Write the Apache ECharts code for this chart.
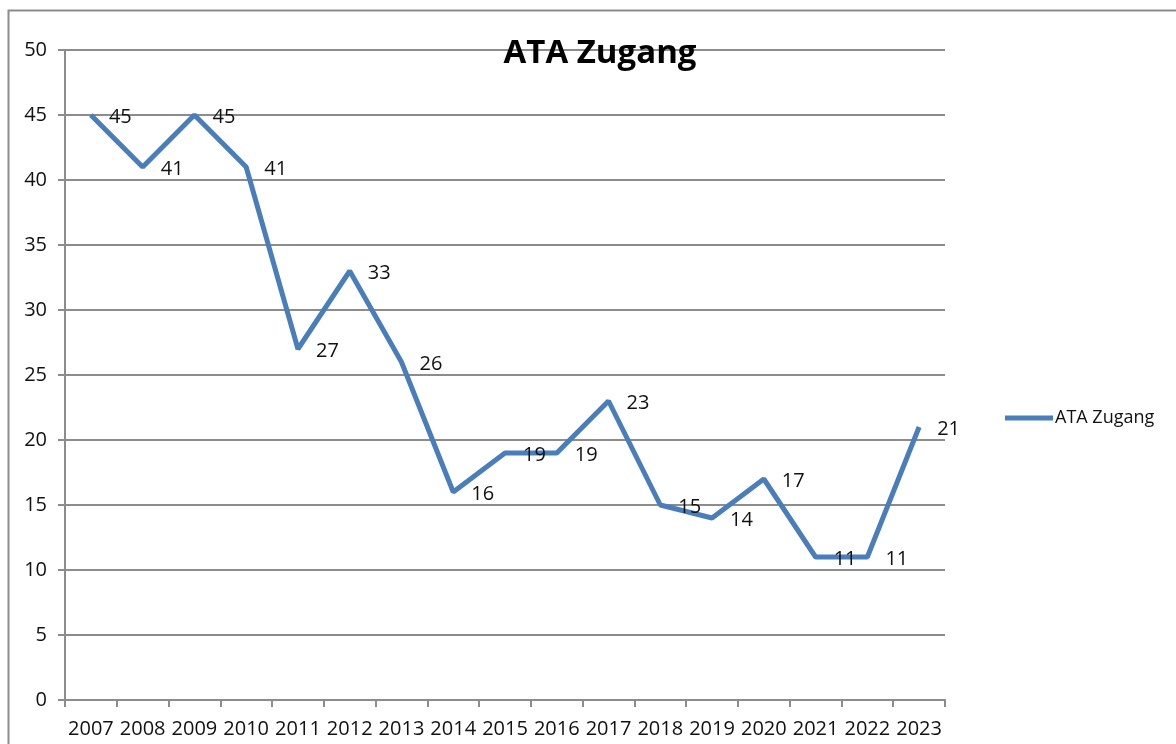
<!DOCTYPE html>
<html>
<head>
<meta charset="utf-8">
<script src="https://cdn.jsdelivr.net/npm/echarts@6/dist/echarts.min.js"></script>
<style>
  html, body { margin: 0; padding: 0; background: #fff; }
  #chart { width: 1176px; height: 744px; }
</style>
</head>
<body>
<div id="chart"></div>
<script>
// Jahre (Kategorien)
const years = ['2007', '2008', '2009', '2010', '2011', '2012', '2013', '2014', '2015',
  '2016', '2017', '2018', '2019', '2020', '2021', '2022', '2023'];
// ATA Zugang pro Jahr
const zugang = [45, 41, 45, 41, 27, 33, 26, 16, 19, 19, 23, 15, 14, 17, 11, 11, 21];
const seriesName = 'ATA Zugang';

const lineColor = '#4A7EBB';
const axisColor = '#8C8C8C';
const fontFamily = '"Open Sans", "Liberation Sans", sans-serif';

const chart = echarts.init(document.getElementById('chart'));

chart.setOption({
  animation: false,
  textStyle: { fontFamily },
  graphic: [
    {
      type: 'rect',
      shape: { x: 8.5, y: 10.5, width: 1300, height: 900 },
      style: { fill: 'none', stroke: axisColor, lineWidth: 2 },
      silent: true
    }
  ],
  title: {
    text: 'ATA Zugang',
    left: 595,
    top: 32,
    textAlign: 'center',
    textStyle: { fontSize: 33, fontWeight: 'bold', color: '#000', fontFamily }
  },
  legend: {
    left: 1000,
    top: 404,
    itemWidth: 48,
    itemHeight: 5,
    itemGap: 4,
    icon: 'rect',
    textStyle: { fontSize: 18, color: '#111', padding: [0, 0, 0, -3] },
    data: [seriesName]
  },
  grid: {
    left: 65,
    right: 231,
    top: 50,
    bottom: 44,
    containLabel: false
  },
  xAxis: {
    type: 'category',
    data: years,
    boundaryGap: true,
    axisLine: { lineStyle: { color: axisColor, width: 2 } },
    axisTick: { show: true, length: 7, lineStyle: { color: axisColor, width: 2 } },
    axisLabel: { color: '#111', fontSize: 20, margin: 19, interval: 0 },
    splitLine: { show: false }
  },
  yAxis: {
    type: 'value',
    min: 0,
    max: 50,
    interval: 5,
    axisLine: { show: true, lineStyle: { color: axisColor, width: 2 } },
    axisTick: { show: true, length: 7, lineStyle: { color: axisColor, width: 2 } },
    axisLabel: { color: '#111', fontSize: 20, margin: 18 },
    splitLine: { show: true, lineStyle: { color: axisColor, width: 2 } }
  },
  series: [
    {
      name: seriesName,
      type: 'line',
      data: zugang,
      showSymbol: true,
      symbol: 'circle',
      symbolSize: 0.1,
      lineStyle: { color: lineColor, width: 5 },
      itemStyle: { color: lineColor },
      label: {
        show: true,
        position: 'right',
        distance: 18,
        offset: [0, 2],
        color: '#111',
        fontSize: 20
      }
    }
  ]
});
</script>
</body>
</html>
